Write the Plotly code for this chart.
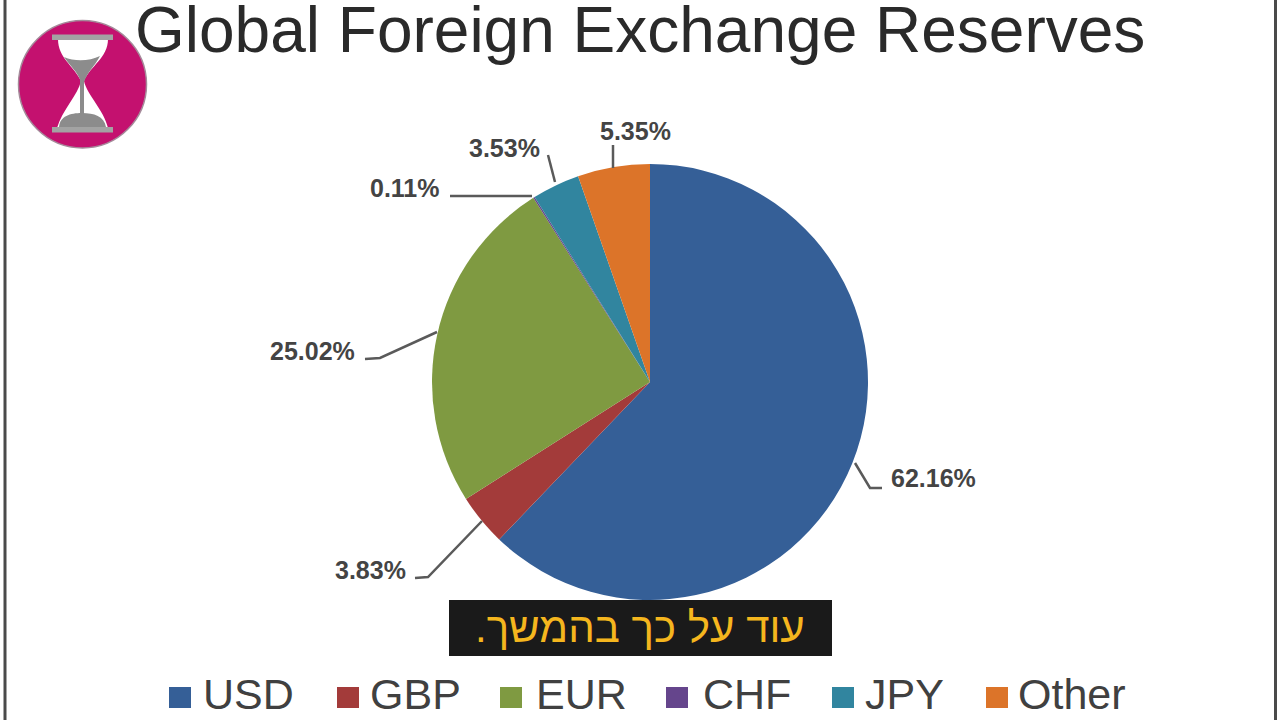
import plotly.graph_objects as go

W, H = 1280, 720
TITLE = "Global Foreign Exchange Reserves"
CAPTION = "עוד על כך בהמשך.\u200f"
categories = ["USD", "GBP", "EUR", "CHF", "JPY", "Other"]
values = [62.16, 3.83, 25.02, 0.11, 3.53, 5.35]
colors = ["#355f97", "#a33b3a", "#7f9a41", "#65458c", "#31859f", "#dc7429"]
value_labels = ["62.16%", "3.83%", "25.02%", "0.11%", "3.53%", "5.35%"]
FONT = "Liberation Sans, Arial, sans-serif"

label_pos = [(933, 478), (370, 570), (312, 351), (405, 188), (504, 148), (635, 131)]
leaders = [
    [(855, 463), (870, 488), (882, 488)],
    [(415, 578), (428, 577), (482, 521)],
    [(365, 359), (380, 358), (437, 332)],
    [(450, 196), (532, 196)],
    [(548, 155), (555, 182)],
    [(613, 145), (613, 168)],
]
legend_swatch_x = [169, 337, 500, 666, 832, 986]
legend_text_x = [201, 368, 534, 701, 863, 1016]


def px(x):
    return x / W


def py(y):
    return 1 - y / H


def svg(*pts):
    return "M" + " L".join(f"{px(x)},{py(y)}" for x, y in pts)


fig = go.Figure(
    go.Pie(
        labels=categories,
        values=values,
        sort=False,
        direction="clockwise",
        rotation=0,
        textinfo="none",
        marker=dict(colors=colors, line=dict(width=0)),
        domain=dict(x=[px(432), px(868)], y=[py(600), py(164)]),
        showlegend=False,
    )
)

shapes = []
annotations = []


def rect(x0, y0, x1, y1, fill, line=None, kind="rect", lw=0):
    shapes.append(dict(type=kind, xref="paper", yref="paper", x0=px(x0), x1=px(x1),
                       y0=py(y0), y1=py(y1), fillcolor=fill,
                       line=dict(width=lw, color=line or fill)))


def path(d, fill="rgba(0,0,0,0)", line="rgba(0,0,0,0)", lw=0):
    shapes.append(dict(type="path", xref="paper", yref="paper", path=d, fillcolor=fill,
                       line=dict(width=lw, color=line)))


def text(x, y, s, size, color, anchor="center", bold=False, family=FONT):
    annotations.append(dict(xref="paper", yref="paper", x=px(x), y=py(y), text=f"<b>{s}</b>" if bold else s,
                            showarrow=False, xanchor=anchor, yanchor="middle",
                            font=dict(size=size, color=color, family=family)))


# Page frame
rect(3.5, 0, 6.5, 720, "#4a4a4a")
rect(1274, 0, 1277, 720, "#4a4a4a")

# Hourglass badge
rect(18.5, 20.5, 146.5, 148, "#c4116f", "#a58a9a", kind="circle", lw=1.5)
P = lambda x, y: f"{px(x)},{py(y)}"
path(f"M{P(58, 39)} L{P(108, 39)} C{P(108, 58)},{P(90, 66)},{P(84, 81)} C{P(87, 95)},{P(104, 110)},{P(108, 128)} "
     f"L{P(57, 128)} C{P(62, 110)},{P(78, 95)},{P(81, 81)} C{P(74, 66)},{P(58, 58)},{P(58, 39)} Z", fill="#ffffff")
path(f"M{P(64, 57)} C{P(75, 62)},{P(90, 61)},{P(100, 56)} C{P(95, 66)},{P(87, 72)},{P(84, 82)} L{P(81, 82)} "
     f"C{P(78, 72)},{P(70, 66)},{P(64, 57)} Z", fill="#8c8c8c")
rect(80, 80, 84, 116, "#8c8c8c")
path(f"M{P(59, 127)} C{P(60, 116)},{P(70, 113)},{P(82, 113)} C{P(94, 113)},{P(104, 116)},{P(106, 127)} Z", fill="#8c8c8c")
rect(52, 34.5, 113, 40, "#a3a3a3")
rect(52, 127, 113, 132.5, "#a3a3a3")

# Title
text(640, 30, TITLE, 64, "#2a2a2a")

# Value labels and leader lines
for (x, y), s, pts in zip(label_pos, value_labels, leaders):
    text(x, y, s, 25, "#444444", bold=True)
    path(svg(*pts), line="#5a5a5a", lw=2.5)

# Legend
for name, color, sx, tx in zip(categories, colors, legend_swatch_x, legend_text_x):
    rect(sx, 687, sx + 22, 708, color)
    text(tx, 694, name, 43, "#404040", anchor="left")

# Caption
rect(449, 600, 832, 656, "#1a1a1a")
text(640, 627, CAPTION, 42, "#f5b61e")

fig.update_layout(
    width=W,
    height=H,
    margin=dict(l=0, r=0, t=0, b=0),
    paper_bgcolor="#ffffff",
    shapes=shapes,
    annotations=annotations,
    showlegend=False,
)
fig.write_html("out.html", config={"displayModeBar": False},
               post_script="document.body.style.margin='0';")
